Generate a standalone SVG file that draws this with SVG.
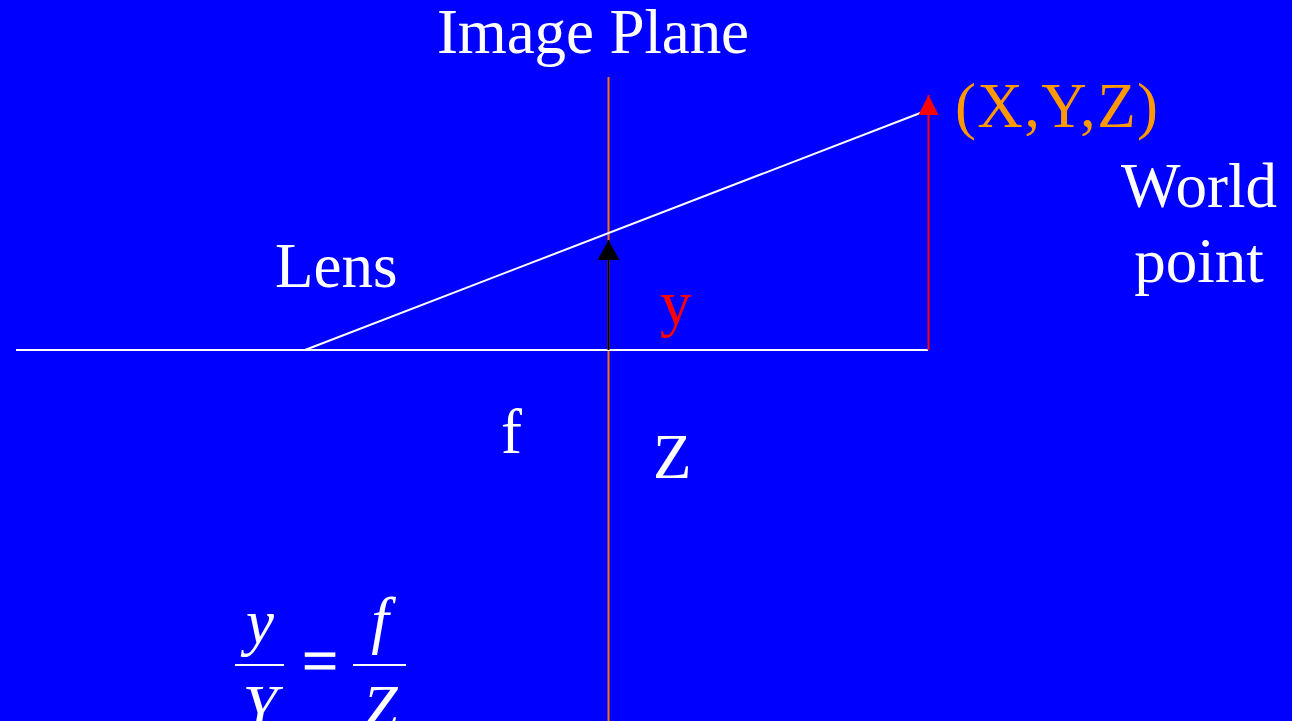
<svg xmlns="http://www.w3.org/2000/svg" width="1292" height="721" viewBox="0 0 1292 721">
<style>
.t{font-family:"Liberation Serif","Times New Roman",serif;font-size:63px;fill:#fff}
.i{font-style:italic}
</style>
<defs>
<marker id="ar" markerUnits="userSpaceOnUse" markerWidth="22" markerHeight="22" refX="20" refY="10" orient="auto"><path d="M0,0 L20,10 L0,20 Z" fill="#f00"/></marker>
<marker id="ab" markerUnits="userSpaceOnUse" markerWidth="22" markerHeight="24" refX="20" refY="11" orient="auto"><path d="M0,0 L20,11 L0,22 Z" fill="#000"/></marker>
</defs>
<rect width="1292" height="721" fill="#0000ff"/>
<g id="connectors">
<line x1="608.5" y1="77" x2="608.5" y2="721" stroke="#ff7000" stroke-width="2"/>
<line x1="16" y1="350" x2="928" y2="350" stroke="#fff" stroke-width="2"/>
<line x1="305" y1="350" x2="928" y2="110" stroke="#fff" stroke-width="2"/>
<line x1="928.5" y1="350" x2="928.5" y2="95" stroke="#f00" stroke-width="2" marker-end="url(#ar)"/>
<line x1="608.5" y1="350" x2="608.5" y2="240" stroke="#000" stroke-width="2" marker-end="url(#ab)"/>
</g>
<g id="image-plane"><text class="t" x="437" y="53" textLength="312">Image Plane</text></g>
<g id="world-coords"><text class="t" x="955" y="127" textLength="203" style="fill:#ff9900">(X,Y,Z)</text></g>
<g id="world-point"><text class="t" x="1199" y="207" text-anchor="middle">World</text><text class="t" x="1199" y="282" text-anchor="middle">point</text></g>
<g id="lens"><text class="t" x="275" y="287">Lens</text></g>
<g id="y-label"><text class="t" x="660" y="324" style="fill:#f00">y</text></g>
<g id="f-label"><text class="t" x="501" y="453">f</text></g>
<g id="z-label"><text class="t" x="653" y="478">Z</text></g>
<g id="equation">
<text class="t i" x="260" y="643" text-anchor="middle">y</text>
<line x1="235" y1="665" x2="284" y2="665" stroke="#fff" stroke-width="2"/>
<text class="t" x="320" y="682" text-anchor="middle" stroke="#fff" stroke-width="1.2">=</text>
<text class="t i" x="380" y="641" text-anchor="middle">f</text>
<line x1="353" y1="665" x2="406" y2="665" stroke="#fff" stroke-width="2"/>
<text class="t i" x="260" y="729" text-anchor="middle">Y</text>
<text class="t i" x="380" y="729" text-anchor="middle">Z</text>
</g>
</svg>
